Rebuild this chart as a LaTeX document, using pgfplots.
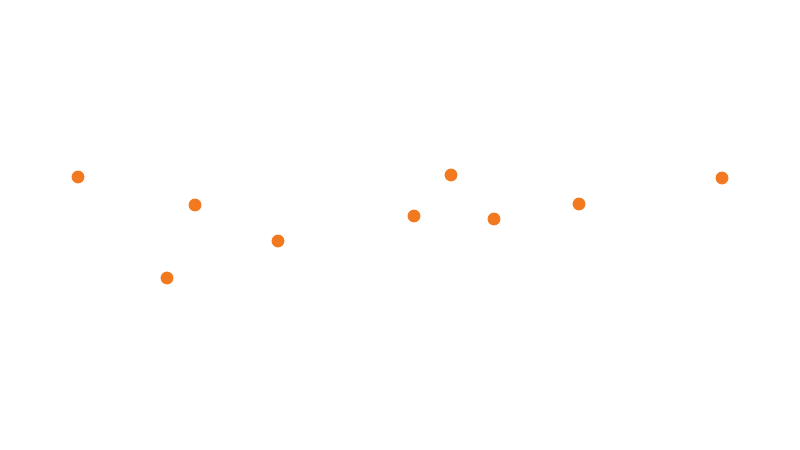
\documentclass[border=0pt]{standalone}
\usepackage{pgfplots}
\pgfplotsset{compat=1.18}
\definecolor{dotorange}{RGB}{242,121,32}
\begin{document}
\begin{tikzpicture}
\begin{axis}[
  scale only axis, width=400pt, height=225pt,
  xmin=0, xmax=800, ymin=0, ymax=450,
  hide axis, clip=false]
\path (axis cs:0,0) rectangle (axis cs:800,450);
\addplot[only marks, mark=*, mark size=3pt, color=dotorange, mark options={draw=dotorange, fill=dotorange}] coordinates {
(78,273) (167,172) (195,245) (278,209) (414,234) (451,275) (494,231) (579,246) (722,272)
};
\end{axis}
\end{tikzpicture}
\end{document}
